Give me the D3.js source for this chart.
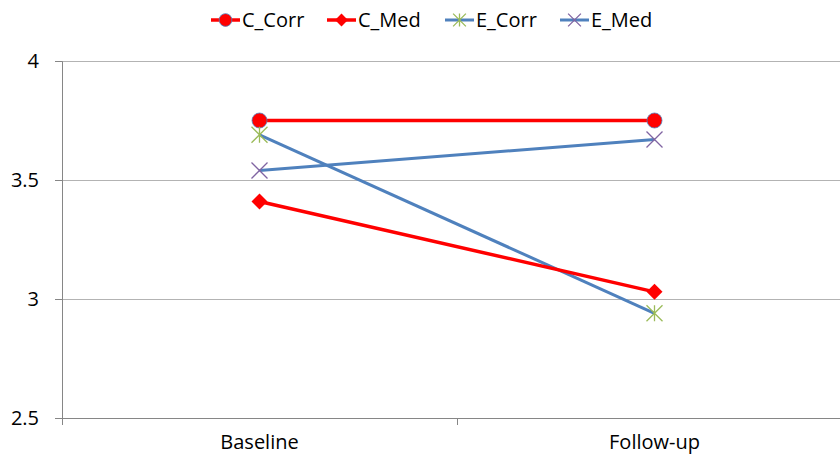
<!DOCTYPE html>
<html><head><meta charset="utf-8">
<script src="https://cdn.jsdelivr.net/npm/d3@7"></script>
<style>body{margin:0;background:#fff}svg{display:block}text{font-family:"Open Sans","Liberation Sans",sans-serif;fill:#000}</style>
</head><body><svg id="c" width="840" height="458"></svg>
<script>
const categories = ["Baseline", "Follow-up"];
const seriesNames = ["C_Corr", "C_Med", "E_Corr", "E_Med"];
const C_Corr = [3.75, 3.75];
const C_Med = [3.41, 3.03];
const E_Corr = [3.69, 2.94];
const E_Med = [3.54, 3.67];
const yTicks = [2.5, 3, 3.5, 4];

const svg = d3.select("#c");
const pLeft = 62, pTop = 61, pBottom = 418, pRight = 852;
const x = d3.scaleBand().domain(categories).range([pLeft, pRight]).padding(0);
const y = d3.scaleLinear().domain([2.5, 4]).range([pBottom, pTop]);
const xc = c => x(c) + x.bandwidth() / 2;

// gridlines
svg.append("g").selectAll("line").data(yTicks.filter(t => t > 2.5)).join("line")
  .attr("x1", pLeft).attr("x2", pRight).attr("y1", d => y(d) + 0.5).attr("y2", d => y(d) + 0.5)
  .attr("stroke", "#b3b3b3").attr("stroke-width", 1);

// y axis
const ya = svg.append("g").attr("transform", `translate(${pLeft},0)`)
  .call(d3.axisLeft(y).tickValues(yTicks).tickSize(7).tickPadding(16).tickFormat(d3.format("")));
ya.select(".domain").attr("stroke", "#868686");
ya.selectAll(".tick line").attr("stroke", "#868686");
ya.selectAll("text").style("font-size", "20px").attr("fill", "#000");

// x axis
const xa = svg.append("g").attr("transform", `translate(0,${pBottom})`)
  .call(d3.axisBottom(x).tickSize(0).tickPadding(17));
xa.select(".domain").attr("stroke", "#868686");
xa.selectAll("text").style("font-size", "20px").attr("fill", "#000");
svg.append("g").selectAll("line").data([pLeft, x("Follow-up"), pRight]).join("line")
  .attr("x1", d => d + 0.5).attr("x2", d => d + 0.5).attr("y1", pBottom).attr("y2", pBottom + 7)
  .attr("stroke", "#868686");

const series = [
  {name: "C_Corr", vals: C_Corr, line: "#ff0000", lw: 3.5, marker: "circle", mc: "#ff0000"},
  {name: "C_Med", vals: C_Med, line: "#ff0000", lw: 3.5, marker: "diamond", mc: "#ff0000"},
  {name: "E_Corr", vals: E_Corr, line: "#4f81bd", lw: 3, marker: "star", mc: "#9bbb59"},
  {name: "E_Med", vals: E_Med, line: "#4f81bd", lw: 3, marker: "x", mc: "#8064a2"}
];

function drawMarker(g, type, cx, cy, color, s) {
  s = s || 1;
  if (type === "circle") {
    g.append("circle").attr("cx", cx).attr("cy", cy).attr("r", 7.5 * s)
      .attr("fill", color).attr("stroke", "#4f81bd").attr("stroke-width", 0.8);
  } else if (type === "diamond") {
    const r = 8 * s;
    g.append("path").attr("d", `M${cx},${cy - r}L${cx + r},${cy}L${cx},${cy + r}L${cx - r},${cy}Z`).attr("fill", color);
  } else if (type === "star") {
    const r = 8 * s;
    g.append("path").attr("d", `M${cx - r},${cy - r}L${cx + r},${cy + r}M${cx - r},${cy + r}L${cx + r},${cy - r}M${cx},${cy - r}L${cx},${cy + r}`)
      .attr("stroke", color).attr("stroke-width", 1.3).attr("fill", "none");
  } else {
    const r = 8 * s;
    g.append("path").attr("d", `M${cx - r},${cy - r}L${cx + r},${cy + r}M${cx - r},${cy + r}L${cx + r},${cy - r}`)
      .attr("stroke", color).attr("stroke-width", 1.3).attr("fill", "none");
  }
}

const line = d3.line().x((d, i) => xc(categories[i])).y(d => y(d));
[series[2], series[3], series[1], series[0]].forEach(s => {
  svg.append("path").datum(s.vals).attr("d", line).attr("fill", "none")
    .attr("stroke", s.line).attr("stroke-width", s.lw);
});
series.forEach(s => {
  const g = svg.append("g");
  s.vals.forEach((v, i) => drawMarker(g, s.marker, xc(categories[i]), y(v), s.mc));
});

// legend
const legX = [211, 327, 445, 560];
const lg = svg.append("g");
series.forEach((s, i) => {
  const lx = legX[i], ly = 20;
  lg.append("line").attr("x1", lx).attr("x2", lx + 29).attr("y1", ly).attr("y2", ly)
    .attr("stroke", s.line).attr("stroke-width", s.lw);
  drawMarker(lg, s.marker, lx + 14.5, ly, s.mc, s.marker === "circle" ? 0.85 : 0.8);
  lg.append("text").attr("x", lx + 31).attr("y", ly).attr("dy", "0.35em")
    .style("font-size", "20px").text(s.name);
});
</script></body></html>
